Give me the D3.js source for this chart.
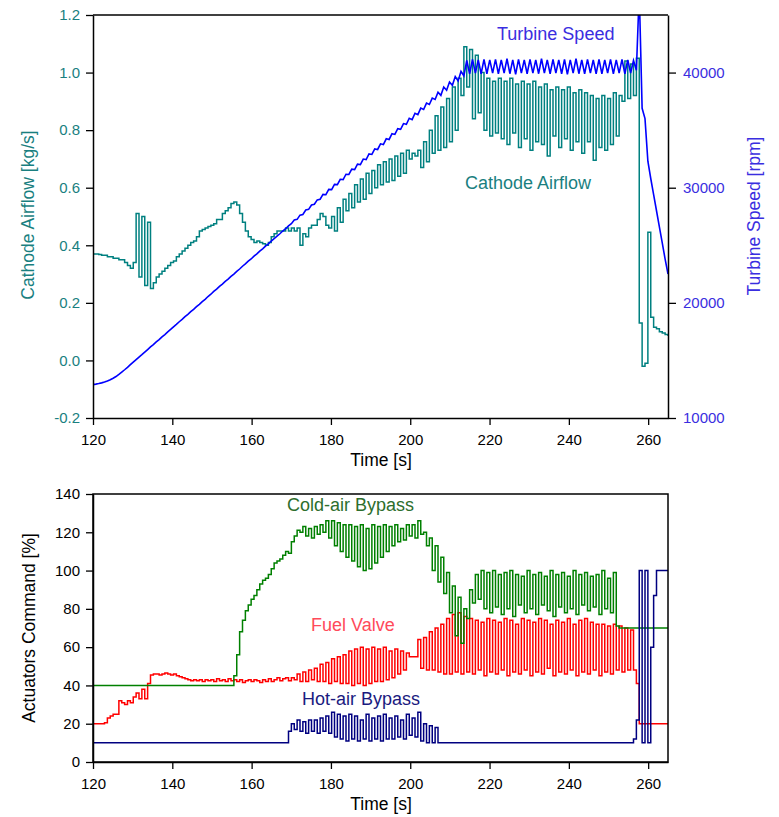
<!DOCTYPE html>
<html>
<head>
<meta charset="utf-8">
<script src="https://cdn.jsdelivr.net/npm/d3@7"></script>
<style>
  body { margin: 0; background: #fff; }
  text { font-family: "Liberation Sans", Arial, sans-serif; }
</style>
</head>
<body>
<div id="chart"></div>
<script>
// logged samples, one every 0.725 s from 120 s to 265 s (201 values per series)
const T0 = 120, DT = 0.725;

const timeTicks = [120, 140, 160, 180, 200, 220, 240, 260];
const airflowTicks = [-0.2, 0.0, 0.2, 0.4, 0.6, 0.8, 1.0, 1.2];
const speedTicks = [10000, 20000, 30000, 40000];
const commandTicks = [0, 20, 40, 60, 80, 100, 120, 140];

// cathode airflow [kg/s]
const airflow = [
  0.37,0.37,0.368,0.365,0.365,0.36,0.36,0.355,0.355,0.35,
  0.35,0.34,0.33,0.32,0.34,0.51,0.29,0.50,0.26,0.48,
  0.25,0.27,0.29,0.30,0.31,0.32,0.33,0.34,0.345,0.36,
  0.37,0.38,0.39,0.40,0.41,0.415,0.43,0.45,0.455,0.46,
  0.465,0.47,0.475,0.49,0.49,0.51,0.52,0.53,0.545,0.55,
  0.54,0.51,0.48,0.45,0.43,0.42,0.41,0.415,0.41,0.405,
  0.40,0.41,0.43,0.44,0.45,0.45,0.45,0.46,0.45,0.46,
  0.45,0.46,0.40,0.44,0.43,0.46,0.47,0.47,0.49,0.51,
  0.50,0.47,0.46,0.50,0.45,0.53,0.48,0.56,0.52,0.58,
  0.53,0.61,0.55,0.63,0.56,0.65,0.58,0.66,0.60,0.68,
  0.61,0.69,0.62,0.70,0.625,0.71,0.64,0.72,0.65,0.73,
  0.70,0.72,0.71,0.73,0.67,0.76,0.69,0.80,0.72,0.85,
  0.73,0.88,0.74,0.91,0.76,0.95,0.80,0.98,0.92,1.09,
  0.95,1.08,0.84,1.06,0.86,1.00,0.80,0.98,0.78,0.97,
  0.79,0.98,0.77,0.97,0.75,0.98,0.79,0.96,0.74,0.97,
  0.77,0.96,0.73,0.97,0.76,0.95,0.75,0.96,0.71,0.94,
  0.78,0.95,0.74,0.94,0.77,0.95,0.73,0.93,0.76,0.94,
  0.72,0.93,0.76,0.92,0.695,0.91,0.74,0.92,0.73,0.91,
  0.75,0.93,0.78,0.92,0.90,1.04,0.91,1.03,0.92,1.05,
  0.13,-0.02,-0.01,0.445,0.15,0.115,0.11,0.10,0.095,0.09,
  0.085
];

// turbine speed [rpm]
const turbineSpeed = [
  12900,12940,12990,13050,13120,13210,13320,13450,13600,13790,
  13990,14190,14400,14630,14850,15070,15290,15500,15720,15940,
  16170,16370,16610,16810,17050,17250,17480,17690,17920,18130,
  18360,18560,18800,19000,19230,19430,19670,19870,20110,20310,
  20550,20750,20990,21190,21430,21630,21870,22060,22300,22500,
  22740,22940,23180,23380,23620,23810,24050,24250,24490,24690,
  24930,25130,25370,25570,25800,26000,26240,26440,26680,26880,
  27190,27250,27620,27680,28060,28120,28500,28560,28940,29000,
  29420,29390,29850,29830,30290,30270,30730,30710,31170,31150,
  31610,31570,32050,32010,32490,32450,32930,32890,33370,33320,
  33810,33750,34250,34190,34690,34630,35130,35070,35570,35500,
  36030,35910,36470,36350,36910,36790,37350,37230,37780,37660,
  38300,38020,38740,38460,39180,38890,39660,39280,40100,39720,
  41050,39900,41150,39950,41100,39900,41150,39900,41100,39950,
  41150,39900,41100,39950,41200,39900,41100,39850,41150,39950,
  41100,39900,41150,39950,41100,39900,41200,39950,41100,39900,
  41150,39950,41100,39900,41150,39850,41100,39950,41200,39900,
  41100,39900,41150,39950,41100,39900,41150,39900,41100,39950,
  41150,39900,41100,39950,41150,39900,41100,39950,41050,40200,
  47000,36900,36000,32300,30800,29400,28000,26600,25200,23800,
  22500
];

// actuator commands [%]
const coldAirBypass = [
  40,40,40,40,40,40,40,40,40,40,
  40,40,40,40,40,40,40,40,40,40,
  40,40,40,40,40,40,40,40,40,40,
  40,40,40,40,40,40,40,40,40,40,
  40,40,40,40,40,40,40,40,40,45,
  56,68,74,79,82,85,87,90,93,95,
  96,98,101,104,105,106,108,110,109,115,
  118,121,120,123,118,122,117,123,119,124,
  120,126,117,126,113,125,110,124,107,124,
  105,123,102,124,100,122,101,124,104,123,
  107,124,110,123,113,124,115,122,116,124,
  118,124,117,126,119,120,113,117,100,113,
  94,107,88,99,78,92,66,86,62,80,
  75,90,83,98,85,100,80,99,78,100,
  81,98,77,99,80,100,76,98,82,97,
  78,100,80,98,77,99,82,97,79,100,
  76,98,81,99,78,97,80,100,77,98,
  82,99,79,97,81,98,77,100,80,96,
  78,99,71,70,70,70,70,70,70,70,
  70,70,70,70,70,70,70,70,70,70,
  70
];

const fuelValve = [
  20,20,20,20,20.5,23,24,25,25,32,
  31,30,32,31,34,36,33,38,33,41,
  45.5,46,46,45.5,46,46.5,46,45.5,46,45,
  44.5,44,43.5,43,42.5,43,42.5,43,42,43,
  42.5,43,42,43.5,42.5,43,42,43.5,42.5,43,
  42,43,41.5,42.5,43,42,43,42.5,41.5,43,
  42,43.5,42,43,44,42.5,43.5,44,42.5,44,
  43,46,42,47,42,48,43,49,42,51,
  42,52,41,54,42,55,41,56,41,58,
  40,59,41,60,40,59,41,60,42,59,
  42,60,43,58,44,59,46,58,48,57,
  55,55,55,64,49,65,48,68,48,70,
  47,72,46,75,46,77,47,78,46,76,
  47,75,46,74,48,73,45,75,47,74,
  46,73,48,75,45,74,47,72,46,75,
  48,74,45,73,47,75,46,74,49,72,
  45,74,47,73,46,75,48,72,45,74,
  47,75,46,73,48,72,45,72,47,71,
  46,72,48,71,47,70,48,69,48,41,
  20,20,20,20,20,20,20,20,20,20,
  20
];

const hotAirBypass = [
  10,10,10,10,10,10,10,10,10,10,
  10,10,10,10,10,10,10,10,10,10,
  10,10,10,10,10,10,10,10,10,10,
  10,10,10,10,10,10,10,10,10,10,
  10,10,10,10,10,10,10,10,10,10,
  10,10,10,10,10,10,10,10,10,10,
  10,10,10,10,10,10,10,10,16,20,
  17,22,16,21,15,22,16,22,15,23,
  16,24,15,26,13,25,12,24,11,25,
  12,24,11,22,12,25,11,23,12,24,
  11,25,12,23,12,24,13,22,12,25,
  14,23,13,26,11,20,10,19,10,18,
  10,10,10,10,10,10,10,10,10,10,
  10,10,10,10,10,10,10,10,10,10,
  10,10,10,10,10,10,10,10,10,10,
  10,10,10,10,10,10,10,10,10,10,
  10,10,10,10,10,10,10,10,10,10,
  10,10,10,10,10,10,10,10,10,10,
  10,10,10,10,10,10,10,10,12,22,
  100,10,100,10,60,87,100,100,100,100,
  100
];

const width = 779;
const height = 817;
const font = "Liberation Sans, Arial, sans-serif";

const svg = d3.select("#chart")
    .append("svg")
    .attr("width", width)
    .attr("height", height);

svg.append("rect")
    .attr("width", width)
    .attr("height", height)
    .attr("fill", "#fff");

// plot boxes
const plotLeft = 93, plotRight = 668;
const top1 = 15, bottom1 = 418;   // upper chart
const top2 = 494, bottom2 = 762;  // lower chart

const x = d3.scaleLinear().domain([120, 265]).range([plotLeft, plotRight]);
const yAir = d3.scaleLinear().domain([-0.2, 1.2]).range([bottom1, top1]);
const ySpeed = d3.scaleLinear().domain([10000, 45000]).range([bottom1, top1]);
const yCmd = d3.scaleLinear().domain([0, 140]).range([bottom2, top2]);

const timeOf = i => T0 + i * DT;

// clip paths so the speed spike stops at the frame
const defs = svg.append("defs");
defs.append("clipPath").attr("id", "clip1")
    .append("rect").attr("x", plotLeft).attr("y", top1)
    .attr("width", plotRight - plotLeft).attr("height", bottom1 - top1);
defs.append("clipPath").attr("id", "clip2")
    .append("rect").attr("x", plotLeft).attr("y", top2)
    .attr("width", plotRight - plotLeft).attr("height", bottom2 - top2);

function drawLine(clip, data, yScale, color, curve, w) {
    const line = d3.line()
        .x((d, i) => x(timeOf(i)))
        .y(d => yScale(d))
        .curve(curve);
    svg.append("path")
        .datum(data)
        .attr("clip-path", `url(#${clip})`)
        .attr("fill", "none")
        .attr("stroke", color)
        .attr("stroke-width", w)
        .attr("d", line);
}

// upper chart lines
drawLine("clip1", airflow, yAir, "#008080", d3.curveStepAfter, 1.5);
drawLine("clip1", turbineSpeed, ySpeed, "#0000ff", d3.curveLinear, 1.6);

// lower chart lines
drawLine("clip2", fuelValve, yCmd, "#ff0000", d3.curveStepAfter, 1.5);
drawLine("clip2", coldAirBypass, yCmd, "#008000", d3.curveStepAfter, 1.5);
drawLine("clip2", hotAirBypass, yCmd, "#000080", d3.curveStepAfter, 1.5);

function styleAxis(g, color) {
    g.selectAll("path").attr("stroke", "#000").attr("stroke-width", 1.5);
    g.selectAll("line").attr("stroke", "#000").attr("stroke-width", 1.3);
    g.selectAll("text")
        .attr("fill", color)
        .style("font-family", font)
        .style("font-size", "15px");
}

// upper chart axes
svg.append("g")
    .attr("transform", `translate(0,${bottom1})`)
    .call(d3.axisBottom(x).tickValues(timeTicks).tickSize(7).tickPadding(9).tickSizeOuter(0))
    .call(g => styleAxis(g, "#000"));

svg.append("g")
    .attr("transform", `translate(${plotLeft},0)`)
    .call(d3.axisLeft(yAir).tickValues(airflowTicks).tickFormat(d => d.toFixed(1))
        .tickSize(7).tickPadding(6).tickSizeOuter(0))
    .call(g => styleAxis(g, "#1a7f7f"));

svg.append("g")
    .attr("transform", `translate(${plotRight},0)`)
    .call(d3.axisRight(ySpeed).tickValues(speedTicks).tickFormat(d3.format("d"))
        .tickSize(8).tickPadding(7).tickSizeOuter(0))
    .call(g => styleAxis(g, "#3a2ee0"));

svg.append("line")
    .attr("x1", plotLeft).attr("x2", plotRight)
    .attr("y1", top1).attr("y2", top1)
    .attr("stroke", "#000").attr("stroke-width", 1.5);

// lower chart axes
svg.append("g")
    .attr("transform", `translate(0,${bottom2})`)
    .call(d3.axisBottom(x).tickValues(timeTicks).tickSize(7).tickPadding(9).tickSizeOuter(0))
    .call(g => styleAxis(g, "#000"));

svg.append("g")
    .attr("transform", `translate(${plotLeft},0)`)
    .call(d3.axisLeft(yCmd).tickValues(commandTicks).tickSize(7).tickPadding(6).tickSizeOuter(0))
    .call(g => styleAxis(g, "#000"));

svg.append("rect")
    .attr("x", plotLeft).attr("y", top2)
    .attr("width", plotRight - plotLeft).attr("height", bottom2 - top2)
    .attr("fill", "none")
    .attr("stroke", "#000").attr("stroke-width", 1.5);

// axis titles
function addText(txt, px, py, color, size, rotate) {
    const t = svg.append("text")
        .attr("fill", color)
        .style("font-family", font)
        .style("font-size", size + "px")
        .text(txt);
    if (rotate) {
        t.attr("transform", `translate(${px},${py}) rotate(-90)`)
            .attr("text-anchor", "middle");
    } else {
        t.attr("x", px).attr("y", py);
    }
    return t;
}

addText("Time [s]", 381, 466, "#000", 17.5).attr("text-anchor", "middle");
addText("Time [s]", 381, 810, "#000", 17.5).attr("text-anchor", "middle");
addText("Cathode Airflow [kg/s]", 34, 215, "#1a7f7f", 17.5, true);
addText("Turbine Speed [rpm]", 760, 216, "#3a2ee0", 17.5, true);
addText("Actuators Command [%]", 35, 628, "#000", 17.5, true);

// series labels
addText("Turbine Speed", 497, 40, "#3a2ee0", 18);
addText("Cathode Airflow", 465, 189, "#1a7f7f", 18);
addText("Cold-air Bypass", 287, 511, "#2d6e2d", 18);
addText("Fuel Valve", 311, 631, "#ff4a5a", 18);
addText("Hot-air Bypass", 302, 705, "#1a1a80", 18);
</script>
</body>
</html>
